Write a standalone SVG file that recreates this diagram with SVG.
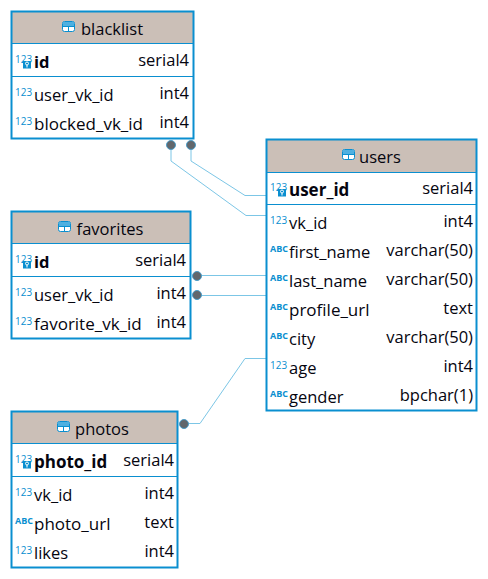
<svg xmlns="http://www.w3.org/2000/svg" width="488" height="579" viewBox="0 0 488 579">
<defs>
<g id="tbl"><rect x="0.5" y="0.5" width="12" height="10" rx="2" fill="#fff" stroke="#0a8fd0"/><rect x="1" y="1" width="11" height="4" fill="#4fb0e0"/><path d="M0.5 5.5H12.5M6.5 5V10.5" stroke="#0a8fd0" fill="none"/></g>
<g id="key"><text class="num" x="0" y="0">123</text><rect x="8" y="-2" width="8" height="7.500" fill="#0a8fd0"/><circle cx="12" cy="0.500" r="1.500" fill="none" stroke="#fff"/><path d="M12 2V4.500" stroke="#fff"/></g>
</defs>
<style>
text{font-family:"Open Sans","Noto Sans","Liberation Sans",sans-serif;font-size:16.500px;fill:#05050f}
.b{font-weight:700}
.l{font-size:17px}
.r{text-anchor:end}
.h{text-anchor:middle}
.num{font-size:10px;fill:#0a8fd0}
.abc{font-size:9px;font-weight:700;fill:#0a8fd0}
.box{fill:none;stroke:#0a8fd0;stroke-width:2}
.head{fill:#cbbfb7}
.sep{stroke:#0a8fd0;stroke-width:1;fill:none}
.conn{fill:none;stroke:#7cc6e6;stroke-width:1}
.dot{fill:#62676c;stroke:#4a9cc8;stroke-width:1}
</style>
<g id="connectors">
<path class="conn" d="M171 145V161L246 215.500H266"/>
<path class="conn" d="M191 145V161L245 195.500H266"/>
<path class="conn" d="M197 275.500H266"/>
<path class="conn" d="M197 295.500H266"/>
<path class="conn" d="M184 423.500H200L245 358.500H266"/>
<circle class="dot" cx="171" cy="145" r="4.500"/>
<circle class="dot" cx="191" cy="145" r="4.500"/>
<circle class="dot" cx="197" cy="276" r="4.500"/>
<circle class="dot" cx="197" cy="295" r="4.500"/>
<circle class="dot" cx="184" cy="424" r="4.500"/>
</g>
<g id="blacklist">
<rect x="11" y="11" width="182" height="128" fill="#fff"/>
<rect class="head" x="11" y="11" width="182" height="32"/>
<rect class="box" x="11.500" y="11.500" width="182" height="127"/>
<path class="sep" d="M12 43.500H193M12 76.500H193"/>
<use href="#tbl" x="62" y="21"/>
<text class="h" x="112" y="35">blacklist</text>
<use href="#key" x="15" y="63"/>
<text class="b" x="34" y="67.500">id</text><text class="r" x="189" y="66">serial4</text>
<text class="num" x="15" y="96">123</text>
<text x="34" y="100.500">user_vk_id</text><text class="r" x="189" y="99">int4</text>
<text class="num" x="15" y="125">123</text>
<text class="l" x="34" y="129.500">blocked_vk_id</text><text class="r" x="189" y="128">int4</text>
</g>
<g id="favorites">
<rect x="11" y="211" width="180" height="128" fill="#fff"/>
<rect class="head" x="11" y="211" width="180" height="32"/>
<rect class="box" x="11.500" y="211.500" width="179" height="127"/>
<path class="sep" d="M12 243.500H190M12 276.500H190"/>
<use href="#tbl" x="58" y="221"/>
<text class="h" x="110" y="235">favorites</text>
<use href="#key" x="15" y="263"/>
<text class="b" x="34" y="267.500">id</text><text class="r" x="186" y="266">serial4</text>
<text class="num" x="15" y="296">123</text>
<text x="34" y="300.500">user_vk_id</text><text class="r" x="186" y="299">int4</text>
<text class="num" x="15" y="325">123</text>
<text class="l" x="34" y="329.500">favorite_vk_id</text><text class="r" x="186" y="328">int4</text>
</g>
<g id="users">
<rect x="266" y="139" width="211" height="272" fill="#fff"/>
<rect class="head" x="266" y="139" width="211" height="33"/>
<rect class="box" x="266.500" y="139.500" width="210" height="271"/>
<path class="sep" d="M267 172.500H476M267 204.500H476"/>
<use href="#tbl" x="342" y="149"/>
<text class="h" x="380" y="163">users</text>
<use href="#key" x="270" y="191"/>
<text class="b l" x="289" y="195.500">user_id</text><text class="r" x="473" y="194">serial4</text>
<text class="num" x="270" y="224">123</text>
<text x="289" y="228.500">vk_id</text><text class="r" x="473" y="227">int4</text>
<text class="abc" x="270" y="252">ABC</text>
<text x="289" y="257.500">first_name</text><text class="r" x="473" y="256">varchar(50)</text>
<text class="abc" x="270" y="281">ABC</text>
<text x="289" y="286.500">last_name</text><text class="r" x="473" y="285">varchar(50)</text>
<text class="abc" x="270" y="310">ABC</text>
<text class="l" x="289" y="315.500">profile_url</text><text class="r" x="473" y="314">text</text>
<text class="abc" x="270" y="339">ABC</text>
<text x="289" y="344.500">city</text><text class="r" x="473" y="343">varchar(50)</text>
<text class="num" x="270" y="369">123</text>
<text x="289" y="373.500">age</text><text class="r" x="473" y="372">int4</text>
<text class="abc" x="270" y="397">ABC</text>
<text x="289" y="402.500">gender</text><text class="r" x="473" y="401">bpchar(1)</text>
</g>
<g id="photos">
<rect x="11" y="411" width="167" height="157" fill="#fff"/>
<rect class="head" x="11" y="411" width="167" height="32"/>
<rect class="box" x="11.500" y="411.500" width="166" height="156"/>
<path class="sep" d="M12 443.500H177M12 476.500H177"/>
<use href="#tbl" x="57" y="421"/>
<text class="h" x="102" y="435">photos</text>
<use href="#key" x="15" y="463"/>
<text class="b l" x="34" y="467.500">photo_id</text><text class="r" x="174" y="466">serial4</text>
<text class="num" x="15" y="496">123</text>
<text x="34" y="500.500">vk_id</text><text class="r" x="174" y="499">int4</text>
<text class="abc" x="15" y="524">ABC</text>
<text class="l" x="34" y="529.500">photo_url</text><text class="r" x="174" y="528">text</text>
<text class="num" x="15" y="554">123</text>
<text x="34" y="558.500">likes</text><text class="r" x="174" y="557">int4</text>
</g>
</svg>
